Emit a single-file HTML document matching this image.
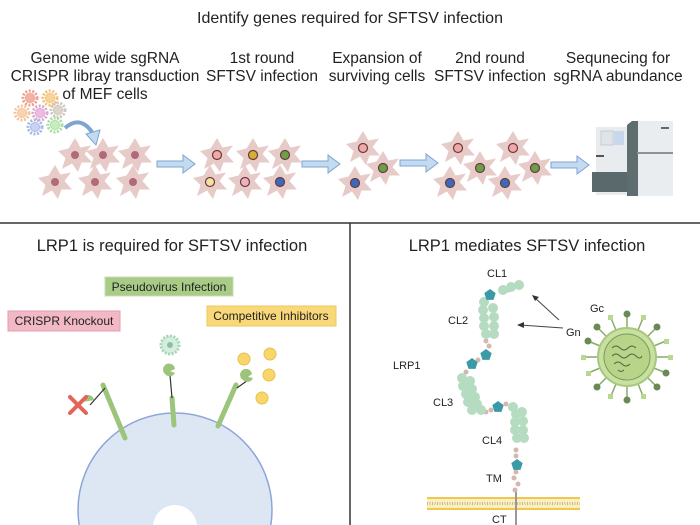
<!DOCTYPE html>
<html><head><meta charset="utf-8"><style>
html,body{margin:0;padding:0;background:#fff;width:700px;height:525px;overflow:hidden}
svg{display:block;overflow:hidden}
text{font-family:"Liberation Sans",Arial,sans-serif;fill:#222}
</style></head><body>
<svg width="700" height="525" viewBox="0 0 700 525" xmlns="http://www.w3.org/2000/svg">
<defs>
<polygon id="star" points="0,-17 5.5,-7.5 16,-9.5 9.5,-1 17,7.5 6.5,7.5 3,17 -3,8.5 -13,14 -9.5,3 -17,-4 -6.5,-6.5" fill="#e6cbc8"/>
<g id="arrow"><polygon points="0,-3 26,-3 26,-9 38,0 26,9 26,3 0,3" fill="#c4daf0" stroke="#7ea4cf" stroke-width="1"/></g>
<g id="vir"><circle r="7" fill="none" stroke-width="3" stroke-dasharray="2 1.5"/><circle r="4.5"/></g>
<g id="ldl"><circle r="5" fill="#b5dcc0"/></g>
<polygon id="pent" points="0,-6 5.7,-1.9 3.5,4.9 -3.5,4.9 -5.7,-1.9" fill="#3a9aa6"/>
<clipPath id="cellclip"><rect x="0" y="224" width="349" height="301"/></clipPath>
</defs>

<text x="350" y="23" font-size="16" text-anchor="middle">Identify genes required for SFTSV infection</text>
<g font-size="15.5" text-anchor="middle">
<text x="105" y="63">Genome wide sgRNA</text>
<text x="105" y="81">CRISPR libray transduction</text>
<text x="105" y="99">of MEF cells</text>
<text x="262" y="63">1st round</text>
<text x="262" y="81">SFTSV infection</text>
<text x="377" y="63">Expansion of</text>
<text x="377" y="81">surviving cells</text>
<text x="490" y="63">2nd round</text>
<text x="490" y="81">SFTSV infection</text>
<text x="618" y="63">Sequnecing for</text>
<text x="618" y="81">sgRNA abundance</text>
</g>
<use href="#vir" x="30" y="98" fill="#f3b3a8" stroke="#eca090"/>
<use href="#vir" x="50" y="98" fill="#f8d39a" stroke="#f2c27a"/>
<use href="#vir" x="22" y="113" fill="#f8d3b0" stroke="#f5c49a"/>
<use href="#vir" x="40" y="113" fill="#ebbde0" stroke="#dba5d0"/>
<use href="#vir" x="58" y="110" fill="#ddd5cc" stroke="#cfc5ba"/>
<use href="#vir" x="35" y="127" fill="#c9d3f0" stroke="#a9b9e6"/>
<use href="#vir" x="55" y="125" fill="#c8ecc0" stroke="#a9dea0"/>
<path d="M65,128 Q80,115 92,132" fill="none" stroke="#7ea4cf" stroke-width="4"/>
<polygon points="86,134 100,130 96,145" fill="#c4daf0" stroke="#7ea4cf"/>

<use href="#star" x="75" y="155"/><use href="#star" x="103" y="155"/><use href="#star" x="135" y="155"/>
<use href="#star" x="55" y="182"/><use href="#star" x="95" y="182"/><use href="#star" x="133" y="182"/>
<g fill="#b06a78"><circle cx="75" cy="155" r="4"/><circle cx="103" cy="155" r="4"/><circle cx="135" cy="155" r="4"/><circle cx="55" cy="182" r="4"/><circle cx="95" cy="182" r="4"/><circle cx="133" cy="182" r="4"/></g>
<use href="#arrow" x="157" y="164"/>
<use href="#star" x="217" y="155"/><use href="#star" x="253" y="155"/><use href="#star" x="285" y="155"/>
<use href="#star" x="210" y="182"/><use href="#star" x="245" y="182"/><use href="#star" x="280" y="182"/>
<g stroke="#6b3a3a" stroke-width="1.2">
<circle cx="217" cy="155" r="4.5" fill="#f0a8a8"/><circle cx="253" cy="155" r="4.5" fill="#d4b030"/><circle cx="285" cy="155" r="4.5" fill="#6aa04a"/>
<circle cx="210" cy="182" r="4.5" fill="#f5e0a0"/><circle cx="245" cy="182" r="4.5" fill="#f0b0c0"/><circle cx="280" cy="182" r="4.5" fill="#3a6ac0"/>
</g>
<use href="#arrow" x="302" y="164"/>
<use href="#star" x="363" y="148"/><use href="#star" x="383" y="168"/><use href="#star" x="355" y="183"/>
<use href="#arrow" x="400" y="163"/>
<use href="#star" x="458" y="148"/><use href="#star" x="513" y="148"/><use href="#star" x="480" y="168"/>
<use href="#star" x="535" y="168"/><use href="#star" x="450" y="183"/><use href="#star" x="505" y="183"/>
<g stroke="#6b3a3a" stroke-width="1.2">
<circle cx="363" cy="148" r="4.5" fill="#f0a8a8"/><circle cx="383" cy="168" r="4.5" fill="#6aa04a"/><circle cx="355" cy="183" r="4.5" fill="#3a6ac0"/>
<circle cx="458" cy="148" r="4.5" fill="#f0a8a8"/><circle cx="513" cy="148" r="4.5" fill="#f0a8a8"/><circle cx="480" cy="168" r="4.5" fill="#6aa04a"/>
<circle cx="535" cy="168" r="4.5" fill="#6aa04a"/><circle cx="450" cy="183" r="4.5" fill="#3a6ac0"/><circle cx="505" cy="183" r="4.5" fill="#3a6ac0"/>
</g>
<use href="#arrow" x="551" y="165"/>
<rect x="596" y="127" width="34" height="68" fill="#e8ecee"/>
<rect x="601" y="131" width="12" height="14" fill="#dfe4e8" stroke="#c5ccd2"/>
<rect x="614" y="131" width="10" height="14" fill="#c8d8ec"/>
<rect x="592" y="172" width="38" height="20" fill="#5a6a6c"/>
<rect x="596" y="155" width="8" height="2" fill="#555"/>
<polygon points="627,125 632,121 638,121 638,196 627,196" fill="#5e6e70"/>
<rect x="638" y="121" width="35" height="75" fill="#e9edef"/>
<rect x="637" y="152" width="36" height="2" fill="#8a9496"/>
<rect x="661" y="127" width="8" height="2" fill="#666"/>

<line x1="0" y1="223" x2="700" y2="223" stroke="#333" stroke-width="1.5"/>
<line x1="350" y1="223" x2="350" y2="525" stroke="#333" stroke-width="1.5"/>

<text x="172" y="251" font-size="16.5" text-anchor="middle">LRP1 is required for SFTSV infection</text>
<rect x="105" y="277" width="128" height="19" fill="#a8cc88" stroke="#c8dcb0"/>
<text x="169" y="291" font-size="12" text-anchor="middle">Pseudovirus Infection</text>
<rect x="8" y="311" width="112" height="20" fill="#f2b8c6" stroke="#e0a0b0"/>
<text x="64" y="325" font-size="12" text-anchor="middle">CRISPR Knockout</text>
<rect x="207" y="306" width="129" height="20" fill="#f8d878" stroke="#eec860"/>
<text x="271" y="320" font-size="12" text-anchor="middle">Competitive Inhibitors</text>
<g clip-path="url(#cellclip)">
<circle cx="175" cy="510" r="97" fill="#dde7f4" stroke="#8ea6d6" stroke-width="1.5"/>
<circle cx="175" cy="527" r="22" fill="#fff"/>
</g>
<g stroke="#9cc47a" stroke-width="5" stroke-linecap="round">
<line x1="103" y1="385" x2="125" y2="438"/>
<line x1="172" y1="398" x2="174" y2="425"/>
<line x1="236" y1="385" x2="218" y2="426"/>
</g>
<g stroke="#333" stroke-width="1.2">
<line x1="90" y1="405" x2="105" y2="388"/>
<line x1="170" y1="375" x2="172" y2="398"/>
<line x1="248" y1="380" x2="237" y2="388"/>
</g>
<g fill="#9cc47a">
<path d="M82,402 a6,6 0 1 1 12,-2 l-5,1 z"/>
<path d="M165,374 a6,6 0 1 1 10,-5 l-5,2 l5,2 a6,6 0 0 1 -10,1 z"/>
<path d="M243,380 a6,6 0 1 1 9,-6 l-4,3 l5,1 a6,6 0 0 1 -10,2 z"/>
</g>
<g stroke="#e4645a" stroke-width="4" stroke-linecap="round"><line x1="70" y1="397" x2="86" y2="413"/><line x1="86" y1="397" x2="70" y2="413"/></g>
<circle cx="170" cy="345" r="9" fill="#d6eee0" stroke="#a8d4b8" stroke-width="3" stroke-dasharray="2 1.5"/>
<circle cx="170" cy="345" r="3" fill="#8fbfa0"/>
<g fill="#f8d66a" stroke="#e8c050"><circle cx="244" cy="359" r="6"/><circle cx="270" cy="354" r="6"/><circle cx="269" cy="375" r="6"/><circle cx="262" cy="398" r="6"/></g>

<text x="527" y="251" font-size="16.5" text-anchor="middle">LRP1 mediates SFTSV infection</text>
<g font-size="11">
<text x="487" y="277">CL1</text>
<text x="448" y="324">CL2</text>
<text x="393" y="369">LRP1</text>
<text x="433" y="406">CL3</text>
<text x="482" y="444">CL4</text>
<text x="486" y="482">TM</text>
<text x="492" y="523">CT</text>
<text x="566" y="336">Gn</text>
<text x="590" y="312">Gc</text>
</g>
<rect x="427" y="497" width="153" height="13" fill="#fbeec0"/>
<line x1="427" y1="498" x2="580" y2="498" stroke="#f0c850" stroke-width="2"/>
<line x1="427" y1="509" x2="580" y2="509" stroke="#f0c850" stroke-width="2"/>
<line x1="427" y1="503.5" x2="580" y2="503.5" stroke="#c8b890" stroke-width="3" stroke-dasharray="1 1.5"/>
<line x1="516" y1="490" x2="516" y2="525" stroke="#999" stroke-width="2"/>
<g fill="#d4b8b0">
<circle cx="516" cy="472" r="2.5"/><circle cx="514" cy="478" r="2.5"/><circle cx="518" cy="484" r="2.5"/><circle cx="515" cy="490" r="2.5"/>
<circle cx="516" cy="450" r="2.5"/><circle cx="516" cy="456" r="2.5"/>
<circle cx="502" cy="292" r="2.5"/><circle cx="508" cy="290" r="2.5"/>
<circle cx="486" cy="341" r="2.5"/><circle cx="489" cy="346" r="2.5"/>
<circle cx="478" cy="360" r="2.5"/><circle cx="466" cy="372" r="2.5"/>
<circle cx="486" cy="412" r="2.5"/><circle cx="491" cy="410" r="2.5"/><circle cx="506" cy="404" r="2.5"/>
</g>
<use href="#ldl" x="503" y="290"/><use href="#ldl" x="511" y="287"/><use href="#ldl" x="519" y="285"/>
<use href="#ldl" x="484" y="302"/><use href="#ldl" x="483" y="310"/><use href="#ldl" x="493" y="308"/><use href="#ldl" x="484" y="318"/><use href="#ldl" x="494" y="317"/><use href="#ldl" x="484" y="326"/><use href="#ldl" x="494" y="326"/><use href="#ldl" x="486" y="334"/><use href="#ldl" x="494" y="334"/>
<use href="#ldl" x="462" y="378"/><use href="#ldl" x="470" y="381"/><use href="#ldl" x="463" y="386"/><use href="#ldl" x="472" y="389"/><use href="#ldl" x="466" y="394"/><use href="#ldl" x="475" y="397"/><use href="#ldl" x="468" y="402"/><use href="#ldl" x="477" y="404"/><use href="#ldl" x="472" y="410"/><use href="#ldl" x="481" y="410"/>
<use href="#ldl" x="513" y="407"/><use href="#ldl" x="516" y="414"/><use href="#ldl" x="522" y="412"/><use href="#ldl" x="515" y="422"/><use href="#ldl" x="523" y="421"/><use href="#ldl" x="515" y="430"/><use href="#ldl" x="523" y="430"/><use href="#ldl" x="517" y="438"/><use href="#ldl" x="524" y="438"/>
<use href="#pent" x="490" y="295"/><use href="#pent" x="486" y="355"/><use href="#pent" x="472" y="364"/><use href="#pent" x="498" y="407"/><use href="#pent" x="517" y="465"/>
<g stroke="#444" stroke-width="1"><line x1="559" y1="320" x2="534" y2="297"/><line x1="563" y1="328" x2="520" y2="325"/></g>
<polygon points="532,295 539,297 535,301" fill="#333"/><polygon points="517,325 524,322 524,328" fill="#333"/>
<g stroke="#8aaa6a" stroke-width="1.5">
<line x1="627" y1="357" x2="627" y2="314"/><line x1="627" y1="357" x2="627" y2="400"/><line x1="627" y1="357" x2="584" y2="357"/><line x1="627" y1="357" x2="670" y2="357"/>
<line x1="627" y1="357" x2="597" y2="327"/><line x1="627" y1="357" x2="657" y2="327"/><line x1="627" y1="357" x2="597" y2="387"/><line x1="627" y1="357" x2="657" y2="387"/>
<line x1="627" y1="357" x2="611" y2="318"/><line x1="627" y1="357" x2="643" y2="318"/><line x1="627" y1="357" x2="611" y2="396"/><line x1="627" y1="357" x2="643" y2="396"/>
<line x1="627" y1="357" x2="588" y2="341"/><line x1="627" y1="357" x2="666" y2="341"/><line x1="627" y1="357" x2="588" y2="373"/><line x1="627" y1="357" x2="666" y2="373"/>
</g>
<g fill="#6a8a55"><circle cx="627" cy="314" r="3.5"/><circle cx="627" cy="400" r="3.5"/><circle cx="597" cy="327" r="3.5"/><circle cx="657" cy="327" r="3.5"/><circle cx="597" cy="387" r="3.5"/><circle cx="657" cy="387" r="3.5"/><circle cx="588" cy="341" r="3.5"/><circle cx="666" cy="373" r="3.5"/></g>
<g fill="#b8d890"><rect x="608" y="315" width="5" height="5"/><rect x="641" y="315" width="5" height="5"/><rect x="581" y="355" width="5" height="5"/><rect x="668" y="355" width="5" height="5"/><rect x="608" y="394" width="5" height="5"/><rect x="641" y="394" width="5" height="5"/><rect x="664" y="339" width="5" height="5"/><rect x="586" y="371" width="5" height="5"/></g>
<circle cx="627" cy="357" r="29" fill="#c8e0a0" stroke="#a8c880" stroke-width="2"/>
<circle cx="627" cy="357" r="23" fill="#b8d488" stroke="#7a9a5a" stroke-width="1"/>
<g fill="none" stroke="#556a40" stroke-width="1">
<path d="M612,348 q4,-4 8,0 t8,0 t8,0"/><path d="M612,356 q4,-4 8,0 t8,0 t8,0 t6,0"/><path d="M614,364 q4,-4 8,0 t8,0"/><path d="M618,370 q3,3 6,0"/>
</g>
</svg>
</body></html>
